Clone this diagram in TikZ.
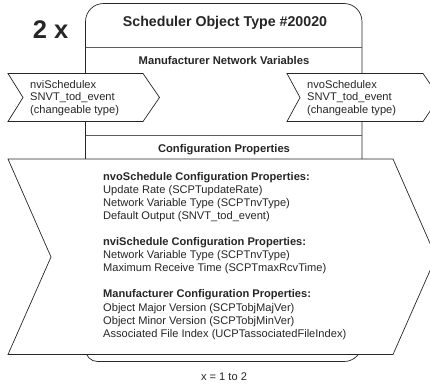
\documentclass[tikz,border=0pt]{standalone}
\usepackage{fontspec}
\setmainfont{Liberation Sans}
\definecolor{ink}{HTML}{262626}
\tikzset{
  outline/.style={draw=ink,line width=0.7pt,fill=white,line join=miter},
  rule/.style={draw=ink!75,line width=0.8pt},
  body/.style={font=\fontsize{11.1}{12.7}\selectfont,text=ink,align=left,inner sep=0pt},
  props/.style={font=\fontsize{11.1}{13.08}\selectfont,text=ink,align=left,inner sep=0pt},
  head/.style={font=\fontsize{11.2}{13}\selectfont\bfseries,text=ink,inner sep=0pt,anchor=base},
}
\begin{document}
\begin{tikzpicture}[x=1pt,y=-1pt]
\clip (0,0) rectangle (430,383);
\path[use as bounding box] (0,0) rectangle (430,383);
\draw[outline] (85.5,361.5) [rounded corners=18pt] -- (85.5,3.5) -- (362,3.5) [rounded corners=18pt] -- (362,361.5) [rounded corners=12pt] -- cycle;
\draw[rule] (85.5,47) -- (362,47);
\draw[rule] (85.5,135.5) -- (362,135.5);
\draw[outline] (8,73.5) -- (143,73.5) -- (159.5,97.5) -- (143,121.5) -- (8,121.5) -- (23,97.5) -- cycle;
\draw[outline] (287,73.5) -- (423,73.5) -- (439.5,97.5) -- (423,121.5) -- (287,121.5) -- (300,97.5) -- cycle;
\draw[outline] (8,159) -- (393,159) -- (436,257) -- (393,354.5) -- (8,354.5) -- (51,257) -- cycle;
\node[font=\fontsize{25.5}{28}\selectfont\bfseries,text=ink,inner sep=0pt] (mult) at (50.5,30) {2 x};
\node[font=\fontsize{14.2}{16}\selectfont\bfseries,text=ink,inner sep=0pt,anchor=base] (title) at (225,26) {Scheduler Object Type \#20020};
\node[head] (mnv) at (224,64) {Manufacturer Network Variables};
\node[head] (cp) at (224,152) {Configuration Properties};
\node[body,anchor=west] (nvi) at (30,98) {nviSchedulex\\SNVT\_tod\_event\\(changeable type)};
\node[body,anchor=west] (nvo) at (307,98) {nvoSchedulex\\SNVT\_tod\_event\\(changeable type)};
\node[props,anchor=north west] (plist) at (103,172) {\textbf{nvoSchedule Configuration Properties:}\\Update Rate (SCPTupdateRate)\\Network Variable Type (SCPTnvType)\\Default Output (SNVT\_tod\_event)\\[13.08pt]\textbf{nviSchedule Configuration Properties:}\\Network Variable Type (SCPTnvType)\\Maximum Receive Time (SCPTmaxRcvTime)\\[13.08pt]\textbf{Manufacturer Configuration Properties:}\\Object Major Version (SCPTobjMajVer)\\Object Minor Version (SCPTobjMinVer)\\Associated File Index (UCPTassociatedFileIndex)};
\node[font=\fontsize{11.1}{13}\selectfont,text=ink,inner sep=0pt,anchor=base] (range) at (224,380) {x = 1 to 2};
\end{tikzpicture}
\end{document}
